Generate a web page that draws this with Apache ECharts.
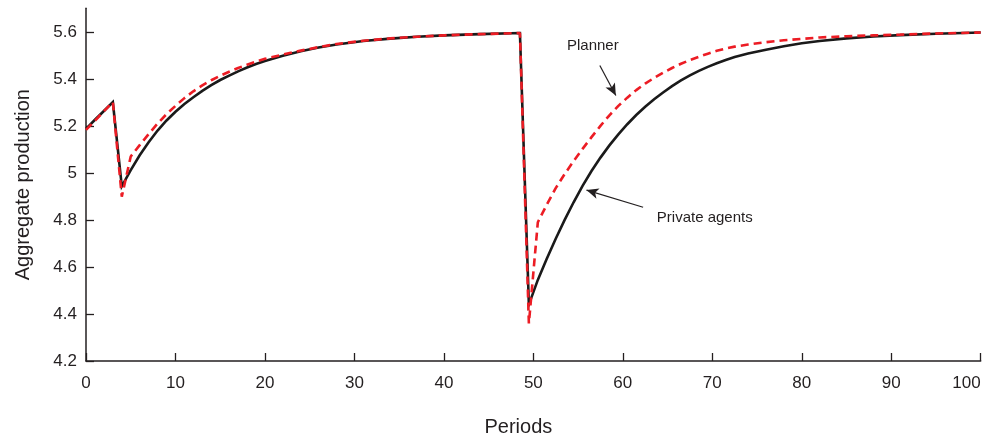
<!DOCTYPE html>
<html>
<head>
<meta charset="utf-8">
<script src="https://cdn.jsdelivr.net/npm/echarts@6/dist/echarts.min.js"></script>
<style>
  html, body { margin: 0; padding: 0; background: #fff; }
  #chart { width: 988px; height: 442px; }
</style>
</head>
<body>
<div id="chart"></div>
<script>
// Simulated paths of aggregate production after two shocks
const periods = [0, 1, 2, 3, 4, 5, 6, 7, 8, 9, 10, 11, 12, 13, 14, 15, 16, 17, 18, 19, 20,
  22, 24, 26, 28, 31, 34, 37, 40, 44, 48.5,
  49.5, 50.5, 51.5, 52.5, 53.5, 54.5, 55.5, 56.5, 57.5, 58.5, 59.5, 60.5, 61.5, 62.5, 63.5,
  64.5, 65.5, 66.5, 67.5, 68.5, 69.5, 70.5, 71.5, 72.5, 74, 76, 78, 80, 82, 85, 88, 91, 95, 100];

const privateAgents = [5.187, 5.226, 5.263, 5.301, 4.943, 5.012, 5.075, 5.13, 5.18, 5.223, 5.26,
  5.293, 5.322, 5.349, 5.373, 5.395, 5.414, 5.432, 5.448, 5.463, 5.476,
  5.498, 5.517, 5.533, 5.546, 5.561, 5.571, 5.579, 5.585, 5.590, 5.595,
  4.44, 4.545, 4.635, 4.72, 4.80, 4.875, 4.945, 5.008, 5.065, 5.117, 5.164, 5.207, 5.246, 5.281, 5.313,
  5.342, 5.369, 5.393, 5.415, 5.434, 5.451, 5.466, 5.480, 5.493, 5.508, 5.524, 5.539, 5.551, 5.561,
  5.572, 5.580, 5.586, 5.592, 5.597];

const planner = [5.183, 5.222, 5.262, 5.301, 4.899, 5.07, 5.118, 5.165, 5.21, 5.25, 5.285,
  5.318, 5.347, 5.372, 5.394, 5.413, 5.43, 5.446, 5.46, 5.473, 5.485,
  5.503, 5.52, 5.535, 5.548, 5.562, 5.572, 5.579, 5.585, 5.590, 5.595,
  4.36, 4.79, 4.865, 4.935, 4.995, 5.05, 5.102, 5.152, 5.20, 5.245, 5.285, 5.32, 5.352, 5.38, 5.404,
  5.426, 5.446, 5.464, 5.48, 5.494, 5.507, 5.519, 5.529, 5.537, 5.546, 5.556, 5.564, 5.570, 5.576,
  5.581, 5.585, 5.588, 5.593, 5.597];

const yTicks = [4.2, 4.4, 4.6, 4.8, 5, 5.2, 5.4, 5.6];

// Callout labels and their arrows (in data units)
const plannerNote = { text: 'Planner', at: [56.65, 5.539], from: [57.43, 5.457], to: [59.22, 5.329] };
const privateNote = { text: 'Private agents', at: [69.16, 4.807], from: [62.27, 4.854], to: [55.94, 4.927] };

const FONT = '"Liberation Sans", Arial, Helvetica, sans-serif';
const INK = '#231f20';

const pairs = (ys) => periods.map((t, i) => [t, ys[i]]);

const arrow = (note) => [{ coord: note.from }, { coord: note.to }];
const noteLabel = (note) => ({ name: note.text, coord: note.at });

const chart = echarts.init(document.getElementById('chart'));
chart.setOption({
  animation: false,
  backgroundColor: '#fff',
  textStyle: { fontFamily: FONT },
  grid: { left: 86, right: 7.3, top: 8.3, bottom: 75 },
  xAxis: {
    type: 'value',
    min: 0,
    max: 100,
    interval: 10,
    name: 'Periods',
    nameLocation: 'middle',
    nameGap: 56,
    nameTextStyle: { fontSize: 20, color: INK, fontFamily: FONT, verticalAlign: 'top', padding: [0, 30, 0, 0] },
    axisLine: { lineStyle: { color: INK, width: 1.5 } },
    axisTick: { inside: true, length: 8, lineStyle: { color: INK, width: 1.3 } },
    axisLabel: { fontSize: 17, color: INK, margin: 14, fontFamily: FONT, alignMaxLabel: 'right' },
    splitLine: { show: false }
  },
  yAxis: {
    type: 'value',
    min: 4.2,
    max: 5.7,
    interval: 0.2,
    name: 'Aggregate production',
    nameLocation: 'middle',
    nameGap: 53,
    nameTextStyle: { fontSize: 20, color: INK, fontFamily: FONT },
    axisLine: { show: true, lineStyle: { color: INK, width: 1.5 } },
    axisTick: { show: true, inside: true, length: 8, customValues: yTicks, lineStyle: { color: INK, width: 1.3 } },
    axisLabel: { fontSize: 17, color: INK, margin: 9, fontFamily: FONT, customValues: yTicks },
    splitLine: { show: false }
  },
  series: [
    {
      name: 'Private agents',
      type: 'line',
      data: pairs(privateAgents),
      showSymbol: false,
      lineStyle: { color: '#1a1a1a', width: 2.6, join: 'miter' },
      z: 2,
      markLine: {
        silent: true,
        symbol: ['none', 'arrow'],
        symbolSize: [8, 12],
        lineStyle: { color: INK, width: 1.2, type: 'solid' },
        label: { show: false },
        data: [arrow(plannerNote), arrow(privateNote)]
      },
      markPoint: {
        silent: true,
        symbol: 'circle',
        symbolSize: 0,
        label: { show: true, position: 'inside', formatter: '{b}', color: INK, fontSize: 15, fontFamily: FONT },
        data: [noteLabel(plannerNote), noteLabel(privateNote)]
      }
    },
    {
      name: 'Planner',
      type: 'line',
      data: pairs(planner),
      showSymbol: false,
      lineStyle: { color: '#ec1c24', width: 2.6, type: [8, 5] },
      z: 3
    }
  ]
});
</script>
</body>
</html>
